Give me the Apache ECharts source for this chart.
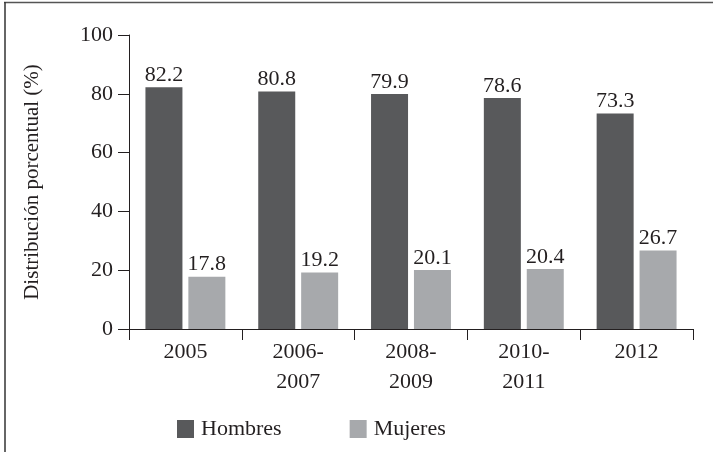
<!DOCTYPE html>
<html>
<head>
<meta charset="utf-8">
<script src="https://cdn.jsdelivr.net/npm/echarts@6/dist/echarts.min.js"></script>
<style>
html,body{margin:0;padding:0;background:#fff;}
#chart{width:713px;height:452px;}
</style>
</head>
<body>
<div id="chart"></div>
<script>
var categories = ['2005', '2006-\n2007', '2008-\n2009', '2010-\n2011', '2012'];
var hombres = [82.2, 80.8, 79.9, 78.6, 73.3];
var mujeres = [17.8, 19.2, 20.1, 20.4, 26.7];
var seriesNames = ['Hombres', 'Mujeres'];
var yAxisName = 'Distribución porcentual (%)';

var FONT = 'Liberation Serif';
var TXT = '#231f20';
var chart = echarts.init(document.getElementById('chart'), null, {renderer: 'canvas'});
var labelStyle = {
  show: true, position: 'top', distance: 1,
  fontFamily: FONT, fontSize: 22, color: TXT,
  formatter: function (p) { return p.value.toFixed(1); }
};
chart.setOption({
  animation: false,
  backgroundColor: '#fff',
  textStyle: {fontFamily: FONT, color: TXT},
  graphic: [
    {type: 'line', shape: {x1: 4, y1: 2.5, x2: 713, y2: 2.5}, style: {stroke: '#555', lineWidth: 1.5}},
    {type: 'line', shape: {x1: 5, y1: 2, x2: 5, y2: 452}, style: {stroke: '#333', lineWidth: 1.5}}
  ],
  legend: {
    data: seriesNames,
    left: 172, top: 413,
    itemWidth: 17, itemHeight: 18, itemGap: 68,
    icon: 'rect',
    textStyle: {fontFamily: FONT, fontSize: 22, color: TXT, padding: [0, 0, 0, 2]}
  },
  grid: {left: 129, right: 20, top: 35, bottom: 123, containLabel: false},
  xAxis: {
    type: 'category',
    data: categories,
    axisLine: {lineStyle: {color: TXT, width: 1}},
    axisTick: {show: true, length: 11, alignWithLabel: false, lineStyle: {color: TXT}},
    axisLabel: {fontFamily: FONT, fontSize: 22, color: TXT, margin: 8, lineHeight: 30, interval: 0}
  },
  yAxis: {
    type: 'value', min: 0, max: 100, interval: 20,
    name: yAxisName, nameLocation: 'middle', nameGap: 86, nameRotate: 90,
    nameTextStyle: {fontFamily: FONT, fontSize: 21, color: TXT},
    axisLine: {show: true, lineStyle: {color: TXT, width: 1}},
    axisTick: {show: true, length: 11, lineStyle: {color: TXT}},
    splitLine: {show: false},
    axisLabel: {fontFamily: FONT, fontSize: 22, color: TXT, margin: 16}
  },
  series: [
    {name: seriesNames[0], type: 'bar', data: hombres, barWidth: 37, barGap: '16%',
     itemStyle: {color: '#58595b'}, label: labelStyle},
    {name: seriesNames[1], type: 'bar', data: mujeres, barWidth: 37, barGap: '16%',
     itemStyle: {color: '#a7a9ac'}, label: labelStyle}
  ]
});
</script>
</body>
</html>
